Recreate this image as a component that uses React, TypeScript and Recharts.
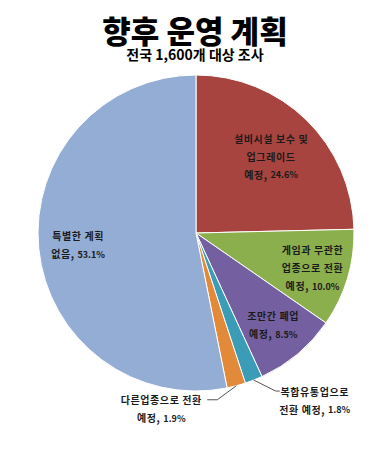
import { PieChart, Pie, Cell } from 'recharts';

const CATEGORIES = [
    '설비시설 보수 및 업그레이드 예정',
    '게임과 무관한 업종으로 전환 예정',
    '조만간 폐업 예정',
    '복합유통업으로 전환 예정',
    '다른업종으로 전환 예정',
    '특별한 계획 없음',
];
const VALUES = [24.6, 10.0, 8.5, 1.8, 1.9, 53.1];
const LABEL_LINES = [
    ['설비시설 보수 및', '업그레이드'],
    ['게임과 무관한', '업종으로 전환'],
    ['조만간 폐업'],
    ['복합유통업으로', '전환 예정,'],
    ['다른업종으로 전환', '예정,'],
    ['특별한 계획'],
];
const LAST_PREFIX = ['예정, ', '예정, ', '예정, ', '', '', '없음, '];
const COLORS = ['#A8443F', '#8CAF4E', '#7460A0', '#3A9CB6', '#E28A3A', '#94ADD4'];

// label placement: inside radius factor, or outside with leader line
const LABEL_R = [0.68, 0.77, 0.76, 0, 0, 0.75];
const OUTSIDE = [false, false, false, true, true, false];

const data = CATEGORIES.map((name, i) => ({ name, value: VALUES[i] }));

const RAD = Math.PI / 180;
const FONT = '"Noto Sans CJK KR", "Noto Sans", sans-serif';
const LINE_H = 18;

function renderLabel(props: any) {
    const { cx, cy, midAngle, outerRadius, index, value } = props;
    const cos = Math.cos(-midAngle * RAD);
    const sin = Math.sin(-midAngle * RAD);
    const lines = LABEL_LINES[index];
    const pct = `${value.toFixed(1)}%`;
    const txt = { fontFamily: FONT, fontSize: 10, fontWeight: 700, fill: '#1a1a1a', letterSpacing: 0.6 };

    if (!OUTSIDE[index]) {
        const r = outerRadius * LABEL_R[index];
        const x = cx + r * cos;
        const y = cy + r * sin;
        const all = lines.length + 1;
        const y0 = y - ((all - 1) * LINE_H) / 2;
        return (
            <g key={`lbl-${index}`}>
                {lines.map((l, j) => (
                    <text key={j} x={x} y={y0 + j * LINE_H} textAnchor="middle" dominantBaseline="central" style={txt}>{l}</text>
                ))}
                <text x={x} y={y0 + lines.length * LINE_H} textAnchor="middle" dominantBaseline="central" style={txt}>
                    {LAST_PREFIX[index]}<tspan fontSize={9} letterSpacing={0}>{pct}</tspan>
                </text>
            </g>
        );
    }

    const ex = cx + outerRadius * cos;
    const ey = cy + outerRadius * sin;
    const right = index === 3;
    const bx = right ? ex + 22 : ex - 19;
    const by = right ? ey + 11 : ey + 14;
    const hx = right ? bx + 4 : bx - 10;
    const tx = right ? bx + 39 : bx - 56;
    return (
        <g key={`lbl-${index}`}>
            <polyline points={`${ex},${ey} ${bx},${by} ${hx},${by}`} fill="none" stroke="#555" strokeWidth={1} />
            <text x={tx} y={by} textAnchor="middle" dominantBaseline="central" style={txt}>{lines[0]}</text>
            <text x={tx} y={by + LINE_H} textAnchor="middle" dominantBaseline="central" style={txt}>
                {lines[1]} <tspan fontSize={9} letterSpacing={0}>{pct}</tspan>
            </text>
        </g>
    );
}

export default function App() {
    return (
        <div style={{ position: 'absolute', left: 0, top: 0, width: 390, height: 450, background: '#fff' }}>
            <div style={{ position: 'absolute', top: 14, width: 390, textAlign: 'center', fontFamily: FONT, fontWeight: 900, fontSize: 31, lineHeight: '32px', color: '#000' }}>
                향후 운영 계획
            </div>
            <div style={{ position: 'absolute', top: 46, width: 390, textAlign: 'center', fontFamily: FONT, fontWeight: 700, fontSize: 14, lineHeight: '17px', color: '#000' }}>
                전국 1,600개 대상 조사
            </div>
            <PieChart width={390} height={450} style={{ position: 'absolute', left: 0, top: 0 }}>
                <Pie
                    data={data}
                    dataKey="value"
                    cx={191}
                    cy={228}
                    outerRadius={158}
                    startAngle={90}
                    endAngle={-270}
                    stroke="#fff"
                    strokeWidth={1}
                    label={renderLabel}
                    labelLine={false}
                    isAnimationActive={false}
                >
                    {data.map((entry, index) => (
                        <Cell key={`cell-${index}`} fill={COLORS[index]} />
                    ))}
                </Pie>
            </PieChart>
        </div>
    );
}
